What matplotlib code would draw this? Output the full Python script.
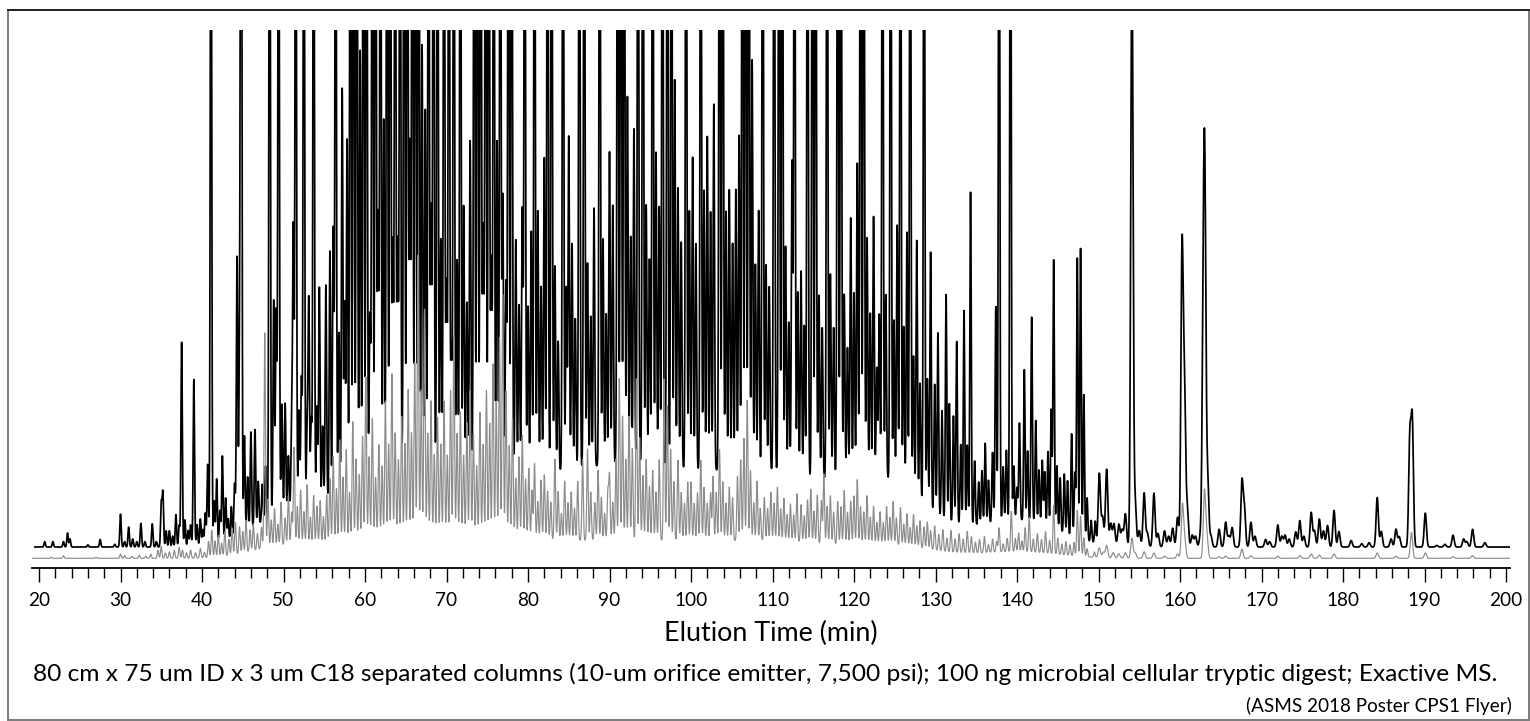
import numpy as np
import matplotlib.pyplot as plt
from matplotlib.patches import Rectangle
from matplotlib.lines import Line2D

plt.rcParams['font.family'] = ['Lato', 'DejaVu Sans']

# Peaks: (elution time in min, height in % of plot height)
black_early = [(20.7, 1.0), (21.7, 1.0), (23.0, 1.0), (23.5, 2.6), (23.8, 1.5), (26.0, 0.4),
               (27.5, 1.4), (29.3, 0.5), (30.0, 6.1), (30.5, 1.0), (31.0, 3.7), (31.5, 1.5),
               (32.0, 1.0), (32.5, 4.4), (33.0, 1.0), (33.9, 4.3), (34.4, 1.0), (35.0, 8.0),
               (35.2, 10.0), (35.6, 3.0), (36.0, 3.0), (36.4, 2.0), (36.8, 6.0), (37.2, 4.0),
               (37.5, 38.0), (37.9, 5.0), (38.3, 3.0), (38.6, 4.0), (39.0, 31.0), (39.4, 4.0),
               (39.8, 5.0), (40.1, 3.0), (40.4, 6.0), (40.7, 15.0), (41.1, 150), (41.5, 8.0),
               (41.8, 12.0), (42.2, 6.0), (42.5, 16.0), (42.9, 8.0), (43.2, 4.0), (43.6, 6.0),
               (44.0, 10.0), (44.3, 52.0), (44.6, 30.0), (44.8, 200), (45.2, 18.0), (45.6, 10.0),
               (46.0, 18.0), (46.5, 18.0), (46.9, 8.0)]
black_dense_a = [(47.4, 7), (47.8, 10), (48.3, 160), (48.8, 40), (49.1, 38), (49.4, 150), (49.8, 20),
                 (50.2, 20), (50.6, 10), (51.0, 15), (51.2, 52), (51.5, 150), (51.9, 18), (52.2, 24),
                 (52.5, 150), (52.9, 14), (53.1, 38), (53.4, 16), (53.7, 150), (54.1, 18), (54.4, 40),
                 (54.8, 14), (55.2, 40), (55.7, 46), (56.1, 50), (56.4, 150), (56.8, 30), (57.2, 75),
                 (57.5, 35), (57.8, 65), (58.2, 150), (58.6, 150), (59.0, 150), (59.4, 80), (59.8, 150),
                 (60.2, 150), (60.6, 30), (60.9, 150), (61.3, 150), (61.6, 48), (61.9, 150), (62.3, 65),
                 (62.7, 150), (63.1, 150), (63.4, 42), (63.7, 150), (64.0, 42), (64.3, 150), (64.8, 150),
                 (65.2, 150), (65.5, 60), (65.8, 150), (66.2, 150), (66.6, 150), (67.0, 78), (67.4, 66),
                 (67.8, 150), (68.1, 48), (68.4, 150), (68.9, 150), (69.3, 42), (69.7, 150), (70.0, 34),
                 (70.3, 150), (70.6, 22), (70.9, 150), (71.3, 38), (71.7, 150), (72.1, 48), (72.5, 30),
                 (72.9, 60), (73.4, 150), (73.8, 150), (74.2, 150), (74.5, 44), (74.8, 150), (75.2, 150),
                 (75.5, 38), (75.8, 150), (76.2, 60), (76.6, 150), (76.9, 50), (77.3, 34), (77.6, 150),
                 (78.0, 150), (78.5, 42), (78.9, 30), (79.3, 48), (79.6, 150)]
black_dense_b = [(80.0, 30), (80.4, 44), (80.8, 150), (81.2, 48), (81.6, 34), (82.0, 58), (82.4, 150),
                 (82.9, 150), (83.3, 38), (83.7, 24), (84.3, 150), (84.7, 34), (85.0, 62), (85.4, 42),
                 (85.8, 28), (86.3, 150), (86.9, 150), (87.3, 38), (87.7, 28), (88.1, 48), (88.8, 150),
                 (89.2, 42), (89.6, 28), (90.0, 58), (90.4, 48), (91.0, 150), (91.4, 150), (91.8, 150),
                 (92.2, 68), (92.6, 42), (93.0, 62), (93.5, 150), (94.1, 150), (94.5, 48), (94.9, 38),
                 (95.3, 150), (95.7, 58), (96.1, 48), (96.5, 150), (97.1, 150), (97.6, 150), (98.0, 72),
                 (98.4, 52), (98.8, 42), (99.4, 150), (99.8, 48), (100.2, 58), (100.6, 42), (101.2, 150),
                 (101.6, 52), (102.0, 62), (102.4, 48), (102.8, 68), (103.5, 150), (103.9, 150),
                 (104.3, 48), (104.7, 52), (105.1, 42), (105.5, 52), (105.9, 62), (106.3, 150),
                 (106.7, 150), (107.1, 150), (107.5, 76), (107.9, 38), (108.3, 48), (108.8, 150),
                 (109.2, 38), (109.6, 34), (110.2, 150), (110.8, 150), (111.2, 150), (111.6, 42),
                 (112.0, 28), (112.4, 58), (112.7, 150), (113.1, 34), (113.5, 38), (113.9, 28),
                 (114.3, 150), (114.9, 150), (115.3, 150), (115.7, 34), (116.1, 28), (116.7, 150),
                 (117.1, 38), (117.5, 28), (118.0, 150), (118.4, 150), (118.8, 34), (119.2, 24),
                 (119.6, 48), (120.0, 34), (120.4, 58), (120.8, 150), (121.2, 150), (121.6, 44),
                 (122.0, 30), (122.4, 48), (122.8, 20), (123.1, 30), (123.5, 150), (123.9, 34),
                 (124.5, 150), (124.9, 30), (125.3, 48), (125.7, 150), (126.1, 30), (126.5, 48),
                 (126.9, 150), (127.3, 26), (127.7, 48), (128.1, 22), (128.6, 150)]
black_late = [(129.0, 24), (129.4, 48), (129.9, 24), (130.3, 34), (130.8, 20), (131.3, 42), (131.7, 22),
              (132.2, 20), (132.6, 34), (133.1, 15), (133.5, 40), (133.9, 15), (134.3, 62), (134.8, 12),
              (135.3, 8), (135.7, 10), (136.1, 15), (136.5, 8), (137.0, 13), (137.4, 40), (137.8, 150),
              (138.3, 10), (138.7, 13), (139.2, 150), (139.6, 10), (140.0, 6), (140.3, 18), (140.9, 28),
              (141.3, 13), (141.8, 38), (142.3, 19), (142.7, 10), (143.1, 12), (143.4, 10), (143.8, 14),
              (144.2, 22), (144.5, 50), (144.9, 12), (145.3, 10), (145.8, 11), (146.2, 10), (146.7, 19),
              (147.1, 12), (147.4, 52), (147.8, 54), (148.2, 27), (148.6, 8), (149.1, 4), (149.6, 4),
              (150.1, 13), (150.5, 5), (151.0, 14), (151.5, 4), (151.9, 4), (152.5, 4), (152.9, 3),
              (153.3, 6), (154.1, 110), (154.5, 8), (155.0, 3), (155.6, 10), (156.0, 2.5), (156.8, 10),
              (157.3, 2.5), (158.1, 3.0), (158.6, 2.0), (159.1, 3.5), (159.7, 5.5), (160.25, 55),
              (160.55, 28), (160.9, 7), (161.5, 2.2), (161.9, 2.0), (162.5, 2.0), (162.85, 38),
              (163.05, 60), (163.4, 12), (163.8, 2.0), (164.8, 3.3), (165.6, 4.6), (166.0, 2.0),
              (166.4, 3.6), (167.6, 12.0), (167.9, 7.0), (168.7, 4.6), (169.2, 2.0), (170.5, 1.4),
              (171.0, 1.0), (172.0, 4.1), (172.5, 2.0), (172.9, 2.2), (173.4, 1.5), (174.2, 2.8),
              (174.7, 4.9), (175.2, 2.0), (176.1, 6.4), (176.5, 3.0), (177.1, 5.2), (177.6, 3.0),
              (178.1, 4.0), (178.9, 6.8), (179.5, 2.9), (181.0, 1.2), (182.3, 0.6), (183.2, 0.8),
              (184.2, 9.2), (184.7, 2.9), (185.9, 1.5), (186.5, 3.3), (186.9, 1.9), (188.2, 20.0),
              (188.5, 23.0), (190.1, 6.3), (191.5, 0.3), (192.5, 0.5), (193.5, 2.2), (194.8, 1.5),
              (195.2, 1.0), (195.9, 3.3), (197.4, 0.8)]
# unresolved background under the dense region: (centre, height, width) in min / %
black_hump = [(50, 5, 4), (62, 12, 6), (75, 13, 7), (92, 14, 8), (110, 13, 8), (124, 10, 5), (140, 5, 5)]

gray_early = [(21.5, 0.2), (23.0, 0.5), (27.0, 0.2), (30.0, 0.8), (30.5, 0.5), (31.4, 0.4), (32.3, 0.6),
              (33.1, 0.4), (33.7, 0.8), (34.6, 1.5), (35.0, 2.2), (35.5, 1.0), (36.0, 1.2), (36.6, 1.5),
              (37.2, 2.0), (37.6, 1.5), (38.1, 1.0), (38.6, 1.5), (39.2, 1.0), (39.8, 1.8), (40.3, 1.0),
              (40.8, 3.0), (41.2, 5.0), (41.6, 3.0), (42.0, 4.0), (42.4, 2.5), (42.8, 4.5), (43.3, 3.0),
              (43.7, 5.0), (44.1, 6.0), (44.6, 5.0), (45.0, 4.0), (45.4, 6.0), (45.9, 4.0), (46.3, 5.0),
              (46.8, 3.0), (47.3, 4.0)]
gray_dense_a = [(47.7, 40), (48.1, 9), (48.5, 5), (48.9, 7), (49.3, 4), (49.7, 8), (50.2, 5), (50.6, 9),
                (51.0, 6), (51.3, 18), (51.7, 7), (52.1, 10), (52.5, 6), (52.9, 11), (53.3, 5), (53.7, 9),
                (54.1, 7), (54.5, 8), (54.9, 5), (55.3, 9), (55.7, 12), (56.1, 16), (56.5, 10), (56.9, 19),
                (57.3, 12), (57.7, 17), (58.1, 9), (58.5, 22), (58.9, 15), (59.3, 12), (59.7, 19),
                (60.1, 30), (60.5, 15), (60.9, 22), (61.3, 11), (61.7, 17), (62.1, 13), (62.5, 25),
                (62.9, 17), (63.3, 30), (63.7, 19), (64.1, 14), (64.5, 22), (64.9, 17), (65.3, 27),
                (65.7, 19), (66.1, 32), (66.5, 52), (66.9, 27), (67.3, 42), (67.7, 19), (68.1, 25),
                (68.5, 15), (68.9, 22), (69.3, 17), (69.7, 25), (70.1, 15), (70.5, 27), (70.9, 37),
                (71.3, 19), (71.7, 23), (72.1, 15), (72.5, 21), (72.9, 27), (73.3, 19), (73.7, 13),
                (74.1, 23), (74.5, 17), (74.9, 27), (75.3, 21), (75.7, 32), (76.1, 25), (76.5, 37),
                (76.9, 45), (77.3, 27), (77.7, 17), (78.1, 22), (78.5, 11), (78.9, 15), (79.3, 19),
                (79.7, 11)]
gray_dense_b = [(80.1, 13), (80.5, 9), (80.8, 14), (81.2, 7), (81.6, 11), (82.0, 12), (82.4, 9), (82.8, 7),
                (83.3, 15), (83.7, 9), (84.1, 5), (84.5, 11), (84.9, 7), (85.3, 9), (85.7, 6), (86.1, 11),
                (86.7, 15), (87.3, 17), (87.7, 9), (88.2, 7), (88.6, 13), (89.0, 8), (89.4, 5), (89.8, 9),
                (90.0, 12), (90.4, 7), (90.8, 15), (91.2, 30), (91.6, 23), (92.0, 15), (92.4, 23),
                (92.8, 17), (93.3, 30), (93.7, 19), (94.1, 12), (94.5, 15), (94.9, 10), (95.3, 13),
                (95.7, 9), (96.1, 15), (96.7, 30), (97.1, 25), (97.5, 17), (97.9, 11), (98.4, 15),
                (98.8, 9), (99.2, 7), (99.6, 11), (100.0, 11), (100.4, 7), (100.8, 9), (101.2, 15),
                (101.6, 10), (102.0, 7), (102.4, 9), (102.7, 12), (103.1, 9), (103.5, 17), (103.9, 11),
                (104.3, 7), (104.7, 10), (105.1, 8), (105.7, 12), (106.1, 15), (106.5, 19), (106.9, 26),
                (107.3, 13), (107.7, 7), (108.1, 11), (108.5, 6), (109.0, 8), (109.4, 6), (109.8, 9),
                (110.2, 7), (110.6, 10), (111.0, 6), (111.4, 8), (111.8, 5), (112.2, 7), (112.6, 5),
                (113.0, 9), (113.5, 7), (113.9, 5), (114.3, 8), (114.7, 10), (115.1, 6), (115.5, 9),
                (116.0, 8), (116.3, 13), (116.7, 7), (117.1, 9), (117.5, 6), (118.0, 8), (118.4, 7),
                (118.8, 10), (119.2, 6), (119.6, 8), (120.0, 9), (120.4, 12), (120.8, 7), (121.2, 6),
                (121.6, 9), (122.0, 5), (122.4, 7), (122.8, 4), (123.2, 6), (123.6, 4), (124.0, 7),
                (124.4, 5), (124.8, 8), (125.2, 5), (125.7, 7), (126.1, 4), (126.5, 6), (126.9, 3.5),
                (127.3, 6), (127.7, 4), (128.1, 5)]
gray_late = [(128.6, 4), (129.0, 5), (129.4, 3.5), (129.9, 4.5), (130.4, 3), (130.9, 4), (131.4, 2.5),
             (131.9, 4), (132.4, 2.5), (132.9, 3.5), (133.4, 2.5), (133.9, 4), (134.4, 3), (134.9, 2),
             (135.4, 2.5), (136.0, 3), (136.5, 1.5), (137.0, 2.5), (137.5, 2), (137.8, 4.5), (138.3, 1.5),
             (138.8, 2.5), (139.3, 7.5), (139.8, 2.5), (140.2, 3.5), (140.6, 2), (141.0, 4.5), (141.5, 6.5),
             (142.0, 2.5), (142.5, 3.5), (143.0, 2.5), (143.5, 4), (144.0, 2.5), (144.5, 9), (145.0, 3),
             (145.5, 2), (146.0, 2.5), (146.5, 2), (147.0, 2.5), (147.4, 8.5), (147.8, 7.5), (148.2, 3.5),
             (148.6, 1.5), (149.5, 1.0), (150.1, 1.8), (150.6, 1.0), (151.0, 2.3), (151.8, 1.0),
             (152.5, 0.8), (153.3, 1.0), (154.1, 3.7), (154.5, 1.0), (155.6, 1.2), (156.8, 1.0),
             (158.1, 0.4), (159.7, 0.8), (160.3, 10.0), (160.6, 3.0), (163.0, 12.5), (163.3, 4.0),
             (164.8, 0.3), (165.6, 0.4), (167.6, 1.7), (168.7, 0.5), (172.0, 0.4), (174.7, 0.5),
             (176.1, 0.8), (177.1, 0.6), (178.9, 0.8), (184.2, 1.0), (186.5, 0.4), (188.4, 4.8),
             (190.1, 1.0), (193.5, 0.3), (195.9, 0.5)]
gray_hump = [(50, 2, 4), (62, 3.5, 6), (75, 3.5, 7), (92, 3, 8), (110, 3, 8), (125, 2, 5), (140, 1.2, 5)]

black_base = 3.9
gray_base = 1.8

xticks_major = list(range(20, 201, 10))
xticks_minor = list(range(20, 201, 2))
x_label = 'Elution Time (min)'
caption = ('80 cm x 75 um ID x 3 um C18 separated columns (10-um orifice emitter, 7,500 psi); '
           '100 ng microbial cellular tryptic digest; Exactive MS.')
source = '(ASMS 2018 Poster CPS1 Flyer)'


def trace(t, peaks, humps, base):
    y = np.full_like(t, base)
    for tc, h in peaks:
        s = 0.085 if tc < 150 else 0.14
        y += h * np.exp(-0.5 * ((t - tc) / s) ** 2)
    for tc, h, w in humps:
        y += h * np.exp(-0.5 * ((t - tc) / w) ** 2)
    return y


t_black = np.arange(19.5, 200.45, 0.02)
t_gray = np.arange(19.1, 200.45, 0.02)
y_black = trace(t_black, black_early + black_dense_a + black_dense_b + black_late, black_hump, black_base)
y_gray = trace(t_gray, gray_early + gray_dense_a + gray_dense_b + gray_late, gray_hump, gray_base)

W, H = 1530, 721
fig = plt.figure(figsize=(W / 100, H / 100), dpi=100)
ax = fig.add_axes([32 / W, (H - 568) / H, 1478 / W, 538 / H])

ax.plot(t_black, y_black, color='black', lw=1.25)
ax.plot(t_gray, y_gray, color='#8c8c8c', lw=0.85)

ax.set_xlim(19.14, 200.49)
ax.set_ylim(0, 100)
for s in ['top', 'right', 'left']:
    ax.spines[s].set_visible(False)
ax.spines['bottom'].set_linewidth(1.3)
ax.set_yticks([])
ax.set_xticks(xticks_major)
ax.set_xticks(xticks_minor, minor=True)
ax.tick_params(axis='x', which='major', length=10, width=1.0, pad=7)
ax.tick_params(axis='x', which='minor', length=7, width=1.0)

fig.canvas.draw()
r = fig.canvas.get_renderer()


def fit_size(s, width_px, size0=16.0):
    tx = fig.text(0, 0, s, fontsize=size0)
    w = tx.get_window_extent(r).width
    tx.remove()
    return size0 * width_px / w


tick_size = fit_size('100', 33)
ax.set_xticklabels([str(v) for v in xticks_major], fontsize=tick_size)
fig.text(771 / W, 1 - 633 / H, x_label, fontsize=fit_size(x_label, 215), ha='center', va='center')
fig.text(33 / W, 1 - 674 / H, caption, fontsize=fit_size(caption, 1470), ha='left', va='center')
fig.text(1512 / W, 1 - 706 / H, source, fontsize=fit_size(source, 265), ha='right', va='center')

# frame around the whole figure
fig.add_artist(Rectangle((8 / W, 0.8 / H), 1521 / W, 710.2 / H, transform=fig.transFigure,
                         fill=False, edgecolor='#7a7a7a', lw=1.4))
fig.add_artist(Line2D([8 / W, 1529 / W], [1 - 10 / H, 1 - 10 / H], transform=fig.transFigure,
                      color='#222222', lw=1.4))

fig.savefig('out.png', dpi=100)
